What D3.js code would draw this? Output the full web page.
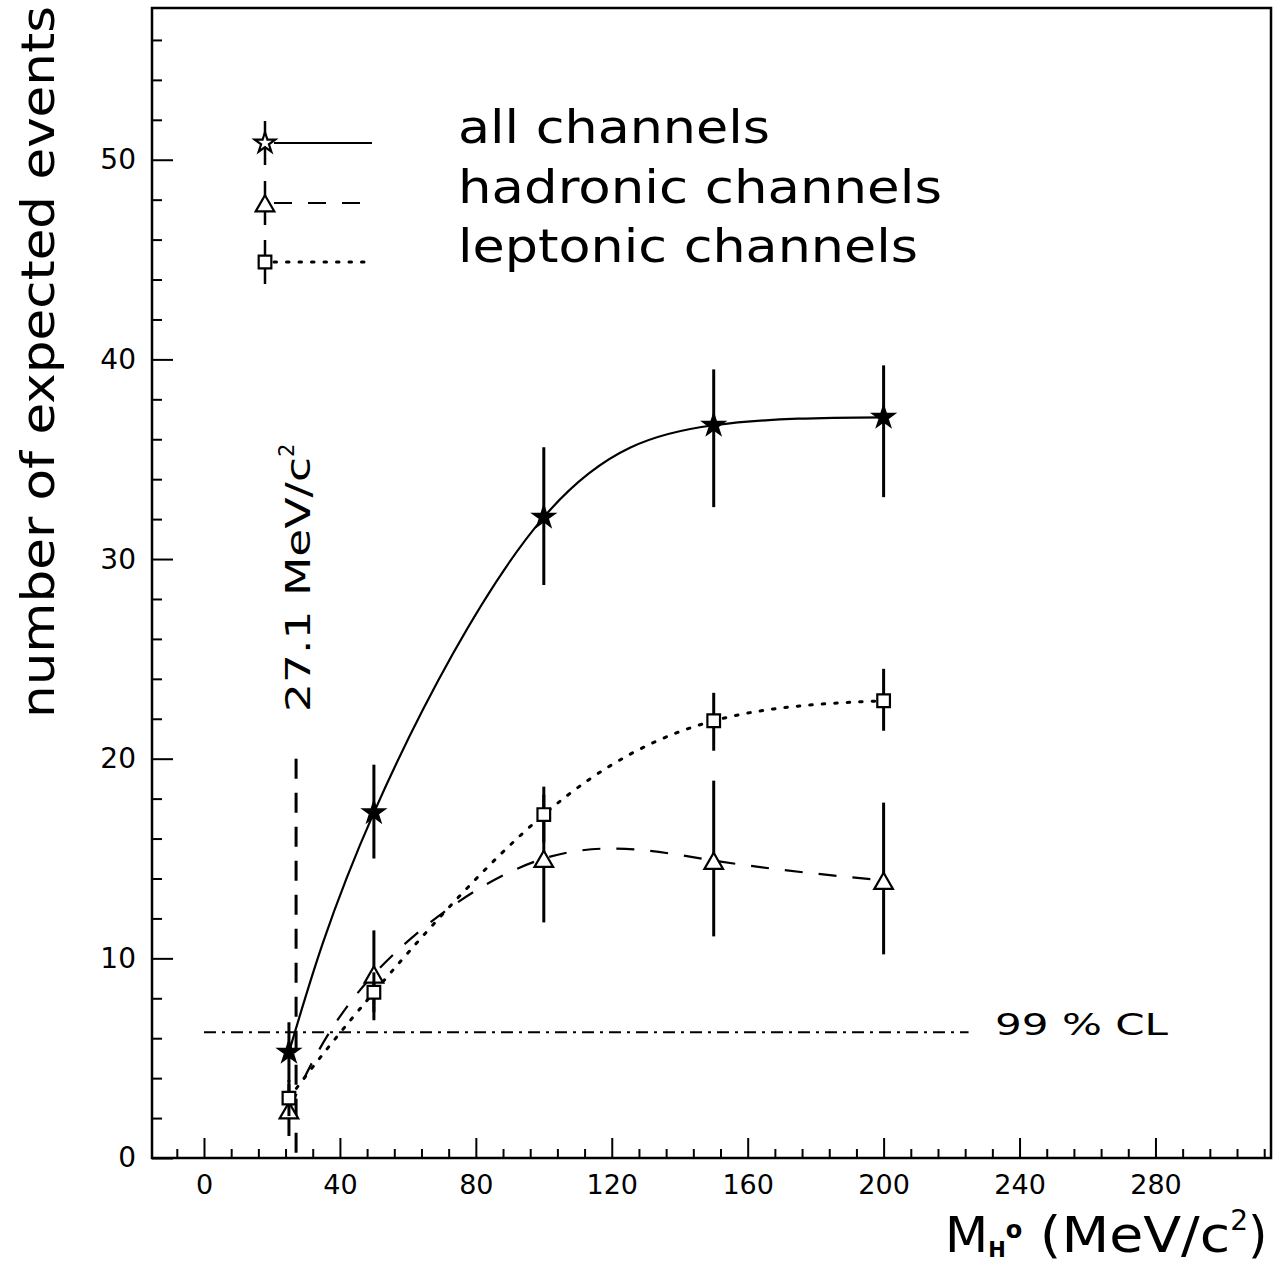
<!DOCTYPE html>
<html><head><meta charset="utf-8">
<script src="https://cdn.jsdelivr.net/npm/d3@7"></script>
<style>body{margin:0;background:#fff}svg{display:block}text{font-family:"DejaVu Sans",sans-serif;fill:#000}</style>
</head><body>
<svg id="c" width="1283" height="1267"></svg>
<script>
// ---- data ----
const mass = [25, 50, 100, 150, 200];
const allVal = [5.3, 17.3, 32.1, 36.7, 37.1];
const allLo  = [3.8, 15.0, 28.7, 32.6, 33.1];
const allHi  = [6.8, 19.7, 35.6, 39.5, 39.7];
const hadVal = [2.4, 9.2, 15.0, 14.9, 13.9];
const hadLo  = [1.1, 6.9, 11.8, 11.1, 10.2];
const hadHi  = [3.7, 11.4, 18.2, 18.9, 17.8];
const lepVal = [3.0, 8.3, 17.2, 21.9, 22.9];
const lepLo  = [2.1, 7.3, 15.8, 20.4, 21.4];
const lepHi  = [3.9, 9.3, 18.6, 23.3, 24.5];
const seriesNames = ["all channels", "hadronic channels", "leptonic channels"];
const xMajorTicks = [0, 40, 80, 120, 160, 200, 240, 280];
const yMajorTicks = [0, 10, 20, 30, 40, 50];
const clValue = 6.3, clXmax = 225, clLabel = "99 % CL";
const massLimit = 27.1, massLimitTop = 20;

// ---- layout ----
const svg = d3.select("#c");
const L = 152, R = 1271, T = 8, B = 1158;
const x = d3.scaleLinear().domain([-15.3, 314]).range([L, R]);
const y = d3.scaleLinear().domain([0, 57.6]).range([B, T]);

// frame
svg.append("rect").attr("x", L).attr("y", T).attr("width", R - L).attr("height", B - T)
  .attr("fill", "none").attr("stroke", "#000").attr("stroke-width", 2.5);

// x axis
const xMinor = d3.range(-8, 313, 8).filter(v => !xMajorTicks.includes(v));
const gx = svg.append("g").attr("transform", `translate(0,${B})`);
gx.append("g").call(d3.axisBottom(x).tickValues(xMinor).tickSize(-9).tickFormat(""))
  .call(g => g.select(".domain").remove());
gx.append("g").call(d3.axisBottom(x).tickValues(xMajorTicks).tickSize(-20).tickPadding(17).tickFormat(d3.format("d")))
  .call(g => g.select(".domain").remove())
  .call(g => g.selectAll("text").attr("font-size", 27).attr("font-family", '"DejaVu Sans",sans-serif').attr("fill", "#000"));
gx.selectAll("line").attr("stroke", "#000").attr("stroke-width", 2);

// y axis
const yMinor = d3.range(2, 57, 2).filter(v => !yMajorTicks.includes(v));
const gy = svg.append("g").attr("transform", `translate(${L},0)`);
gy.append("g").call(d3.axisLeft(y).tickValues(yMinor).tickSize(-10).tickFormat(""))
  .call(g => g.select(".domain").remove());
gy.append("g").call(d3.axisLeft(y).tickValues(yMajorTicks).tickSize(-21).tickPadding(16).tickFormat(d3.format("d")))
  .call(g => g.select(".domain").remove())
  .call(g => g.selectAll("text").attr("font-size", 28).attr("font-family", '"DejaVu Sans",sans-serif').attr("fill", "#000"));
gy.selectAll("line").attr("stroke", "#000").attr("stroke-width", 2);

// axis titles
svg.append("text").attr("transform", "translate(54,362) rotate(-90)").attr("text-anchor", "middle")
  .attr("font-size", 47).attr("textLength", 712).attr("lengthAdjust", "spacingAndGlyphs")
  .text("number of expected events");
const xt = svg.append("text").attr("x", 945).attr("y", 1252).attr("font-size", 50);
xt.append("tspan").text("M");
xt.append("tspan").attr("font-size", 21).attr("dy", 5).attr("font-weight", "bold").text("H");
xt.append("tspan").attr("font-size", 24).attr("dy", -19).attr("font-weight", "bold").text("o");
xt.append("tspan").attr("dy", 14).attr("textLength", 208).attr("lengthAdjust", "spacingAndGlyphs").text(" (MeV/c");
xt.append("tspan").attr("font-size", 28).attr("dy", -22).text("2");
xt.append("tspan").attr("dy", 22).text(")");

// reference lines
svg.append("line").attr("x1", x(0)).attr("x2", x(clXmax)).attr("y1", y(clValue)).attr("y2", y(clValue))
  .attr("stroke", "#000").attr("stroke-width", 2).attr("stroke-dasharray", "12,6,3,6");
svg.append("text").attr("x", 995).attr("y", y(clValue) + 3).attr("font-size", 31)
  .attr("textLength", 173).attr("lengthAdjust", "spacingAndGlyphs").text(clLabel);
svg.append("line").attr("x1", x(massLimit)).attr("x2", x(massLimit)).attr("y1", y(massLimitTop)).attr("y2", B + 2)
  .attr("stroke", "#000").attr("stroke-width", 3).attr("stroke-dasharray", "20,14");
const ml = svg.append("text").attr("transform", `translate(${x(massLimit) + 14},712) rotate(-90)`)
  .attr("font-size", 34);
ml.append("tspan").attr("textLength", 255).attr("lengthAdjust", "spacingAndGlyphs").text(massLimit + " MeV/c");
ml.append("tspan").attr("font-size", 21).attr("dy", -16).text("2");

// series
const series = [
  {name: seriesNames[0], v: allVal, lo: allLo, hi: allHi, dash: null, sym: d3.symbolStar, size: 130, tl: 312},
  {name: seriesNames[1], v: hadVal, lo: hadLo, hi: hadHi, dash: "18,16", sym: d3.symbolTriangle, size: 150, tl: 484},
  {name: seriesNames[2], v: lepVal, lo: lepLo, hi: lepHi, dash: "2.5,10", sym: d3.symbolSquare, size: 160, tl: 460}
];
const line = d3.line().x(d => x(d[0])).y(d => y(d[1])).curve(d3.curveNatural);
series.forEach((s, si) => {
  const pts = mass.map((m, i) => [m, s.v[i]]);
  svg.append("path").attr("d", line(pts)).attr("fill", "none").attr("stroke", "#000")
    .attr("stroke-width", si === 2 ? 3 : 2.2).attr("stroke-dasharray", s.dash)
    .attr("stroke-linecap", si === 2 ? "round" : "butt");
  mass.forEach((m, i) => {
    svg.append("line").attr("x1", x(m)).attr("x2", x(m)).attr("y1", y(s.lo[i])).attr("y2", y(s.hi[i]))
      .attr("stroke", "#000").attr("stroke-width", 3);
  });
  mass.forEach((m, i) => {
    const ty = si === 1 ? 3 : 0;
    svg.append("path").attr("d", d3.symbol(s.sym, s.size)())
      .attr("transform", `translate(${x(m)},${y(s.v[i]) + ty})`)
      .attr("fill", si === 0 ? "#000" : "#fff").attr("stroke", "#000").attr("stroke-width", 2.2);
  });
});

// legend
const legY = [143, 203, 262];
series.forEach((s, si) => {
  const ly = legY[si];
  svg.append("line").attr("x1", 265).attr("x2", 265).attr("y1", ly - 22).attr("y2", ly + 22)
    .attr("stroke", "#000").attr("stroke-width", 2.5);
  svg.append("line").attr("x1", 274).attr("x2", 372).attr("y1", ly).attr("y2", ly)
    .attr("stroke", "#000").attr("stroke-width", si === 2 ? 3 : 2.2).attr("stroke-dasharray", s.dash)
    .attr("stroke-linecap", si === 2 ? "round" : "butt");
  svg.append("path").attr("d", d3.symbol(s.sym, s.size)())
    .attr("transform", `translate(265,${ly + (si === 1 ? 3 : 0)})`)
    .attr("fill", "#fff").attr("stroke", "#000").attr("stroke-width", 2.2);
  svg.append("text").attr("x", 458).attr("y", ly).attr("font-size", 47)
    .attr("textLength", s.tl).attr("lengthAdjust", "spacingAndGlyphs").text(s.name);
});
</script>
</body></html>
